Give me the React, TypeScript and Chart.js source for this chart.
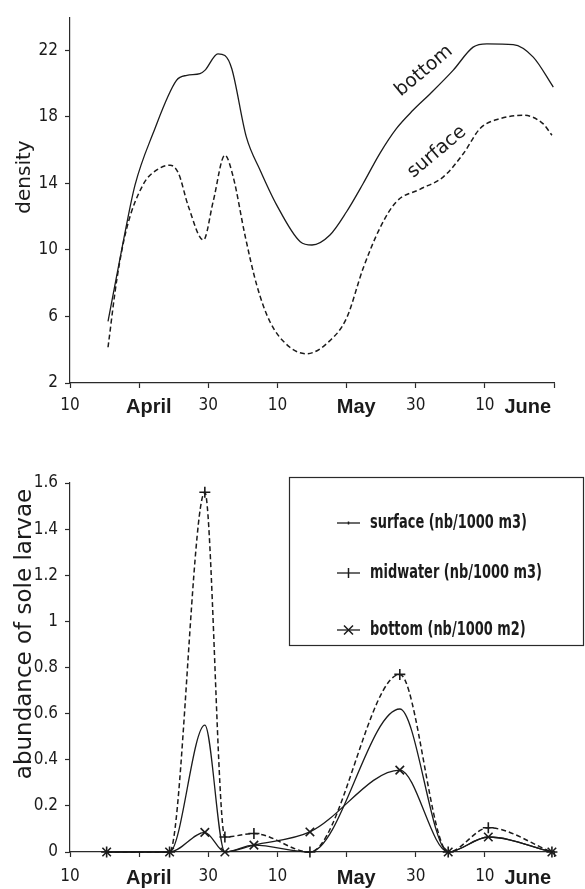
import React, { useEffect, useRef } from 'react';
import { Chart, registerables } from 'chart.js';

Chart.register(...registerables);

// ---------- shared x axis (day number: 10 = 10 April ... 80 = 19 June) ----------
const tickDays = [10, 20, 30, 40, 50, 60, 70, 80];
const tickLabels = ['10', '', '30', '10', '', '30', '10', ''];
const monthDays = [21.4, 51.4, 76.2];
const monthNames = ['April', 'May', 'June'];

// ---------- top chart: density ----------
const densityTicks = [2, 6, 10, 14, 18, 22];
const bottomDensityDays = [15.5, 17.7, 19.4, 22.0, 25.4, 26.9, 28.8, 29.5, 31.4, 32.4, 33.4, 35.5, 37.5, 39.9, 43.3, 45.0, 47.6, 50.0, 52.4, 54.8, 57.2, 59.6, 62.1, 65.4, 68.3, 70.3, 74.1, 77.0, 79.9];
const bottomDensity = [5.7, 10.5, 13.9, 17.0, 20.2, 20.5, 20.6, 20.8, 21.8, 21.7, 20.9, 16.8, 14.8, 12.7, 10.5, 10.3, 10.9, 12.3, 14.0, 15.8, 17.3, 18.4, 19.4, 20.8, 22.2, 22.4, 22.35, 21.6, 19.8];
const surfaceDensityDays = [15.5, 16.8, 18.2, 20.6, 22.5, 24.5, 25.7, 27.1, 29.3, 30.7, 32.4, 33.6, 35.3, 37.0, 38.9, 41.8, 44.2, 47.6, 50.0, 52.4, 54.8, 57.2, 60.6, 64.0, 66.9, 69.3, 72.2, 75.6, 78.4, 79.7];
const surfaceDensity = [4.15, 8.3, 11.3, 13.95, 14.8, 15.1, 14.6, 12.65, 10.6, 12.9, 15.7, 14.4, 10.9, 7.9, 5.7, 4.15, 3.76, 4.55, 5.9, 8.9, 11.3, 12.9, 13.65, 14.4, 15.8, 17.3, 17.9, 18.1, 17.6, 16.9];

// ---------- bottom chart: abundance of sole larvae ----------
const abundanceTicks = [0, 0.2, 0.4, 0.6, 0.8, 1, 1.2, 1.4, 1.6];
const sampleDays = [15.3, 24.4, 29.5, 32.4, 36.6, 44.7, 57.7, 64.7, 70.5, 79.7];
const surfaceAbundance = [0, 0, 0.55, 0, 0.03, 0, 0.62, 0, 0.065, 0];
const midwaterAbundance = [0, 0, 1.56, 0.065, 0.08, 0, 0.77, 0, 0.105, 0];
const bottomAbundance = [0, 0, 0.085, 0, 0.03, 0.087, 0.355, 0, 0.065, 0];
const seriesNames = ['surface (nb/1000 m3)', 'midwater (nb/1000 m3)', 'bottom (nb/1000 m2)'];

const INK = '#1b1b1b';
const AXIS = '#2a2a2a';
const NARROW = "'Liberation Sans Narrow', 'DejaVu Sans Condensed', 'Liberation Sans', sans-serif";
const SANS = "'Liberation Sans', Arial, sans-serif";
const ROUND = "'DejaVu Sans', sans-serif";

const isMonth = (v: number) => monthDays.some((m) => Math.abs(m - v) < 1e-6);
const labelFor = (v: number) => {
  const mi = monthDays.findIndex((m) => Math.abs(m - v) < 1e-6);
  if (mi >= 0) return monthNames[mi];
  const ti = tickDays.findIndex((t) => Math.abs(t - v) < 1e-6);
  return ti >= 0 ? tickLabels[ti] : '';
};

function xScale(axisHeight: number, padding: number) {
  const all = [...tickDays, ...monthDays].sort((a, b) => a - b);
  return {
    type: 'linear',
    min: 10,
    max: 80,
    afterBuildTicks: (scale: any) => {
      scale.ticks = all.map((v) => ({ value: v }));
    },
    afterFit: (scale: any) => {
      scale.height = axisHeight;
    },
    border: { display: true, color: AXIS, width: 1.2 },
    grid: {
      drawOnChartArea: false,
      drawTicks: true,
      tickLength: 5,
      tickWidth: 1.2,
      tickColor: (c: any) => (c.tick && isMonth(c.tick.value) ? 'rgba(0,0,0,0)' : AXIS),
    },
    ticks: {
      autoSkip: false,
      maxRotation: 0,
      minRotation: 0,
      padding,
      color: INK,
      font: (c: any) =>
        c.tick && isMonth(c.tick.value)
          ? { family: SANS, size: 20, weight: 'bold' }
          : { family: NARROW, size: 17 },
      callback: (v: any) => labelFor(Number(v)),
    },
  };
}

function yScale(min: number, max: number, values: number[]) {
  return {
    type: 'linear',
    min,
    max,
    afterBuildTicks: (scale: any) => {
      scale.ticks = values.map((v) => ({ value: v }));
    },
    afterFit: (scale: any) => {
      scale.width = 70;
    },
    border: { display: true, color: AXIS, width: 1.2 },
    grid: { drawOnChartArea: false, drawTicks: true, tickLength: 5, tickWidth: 1.2, tickColor: AXIS },
    ticks: {
      padding: 7,
      color: INK,
      font: { family: NARROW, size: 17 },
      callback: (v: any) => String(Math.round(Number(v) * 10) / 10),
    },
  };
}

const textPlugin = {
  id: 'freeText',
  afterDraw(chart: any, _args: any, opts: any) {
    const ctx = chart.ctx;
    (opts.items || []).forEach((it: any) => {
      ctx.save();
      ctx.translate(it.x, it.y);
      ctx.rotate((it.angle * Math.PI) / 180);
      ctx.font = it.font;
      ctx.fillStyle = INK;
      ctx.textAlign = 'center';
      ctx.textBaseline = 'middle';
      ctx.fillText(it.text, 0, 0);
      ctx.restore();
    });
  },
};

const boxLegendPlugin = {
  id: 'boxLegend',
  afterDraw(chart: any, _args: any, opts: any) {
    if (!opts || !opts.box) return;
    const ctx = chart.ctx;
    const { box, rowsY, sampleX0, sampleX1, textX, font, condense } = opts;
    ctx.save();
    ctx.strokeStyle = AXIS;
    ctx.lineWidth = 1.2;
    ctx.strokeRect(box.x, box.y, box.w, box.h);
    chart.data.datasets.forEach((ds: any, i: number) => {
      const y = rowsY[i];
      const cx = (sampleX0 + sampleX1) / 2;
      ctx.strokeStyle = INK;
      ctx.lineWidth = 1.3;
      ctx.setLineDash([]);
      ctx.beginPath();
      ctx.moveTo(sampleX0, y);
      ctx.lineTo(sampleX1, y);
      ctx.stroke();
      ctx.beginPath();
      ctx.lineWidth = 1.5;
      if (ds.pointStyle === 'cross') {
        ctx.moveTo(cx, y - 5);
        ctx.lineTo(cx, y + 5);
      } else if (ds.pointStyle === 'crossRot') {
        ctx.moveTo(cx - 4.5, y - 4.5);
        ctx.lineTo(cx + 4.5, y + 4.5);
        ctx.moveTo(cx - 4.5, y + 4.5);
        ctx.lineTo(cx + 4.5, y - 4.5);
      } else {
        ctx.moveTo(cx, y - 1.5);
        ctx.lineTo(cx, y + 1.5);
      }
      ctx.stroke();
      ctx.save();
      ctx.translate(textX, y);
      ctx.scale(condense, 1);
      ctx.fillStyle = INK;
      ctx.font = font;
      ctx.textAlign = 'left';
      ctx.textBaseline = 'middle';
      ctx.fillText(ds.label, 0, 0);
      ctx.restore();
    });
    ctx.restore();
  },
};

const toXY = (xs: number[], ys: number[]) => xs.map((x, i) => ({ x, y: ys[i] }));

function DensityChart() {
  const ref = useRef<HTMLCanvasElement>(null);
  useEffect(() => {
    if (!ref.current) return;
    const chart = new Chart(ref.current, {
      type: 'line',
      data: {
        datasets: [
          {
            label: 'bottom',
            data: toXY(bottomDensityDays, bottomDensity),
            borderColor: INK,
            borderWidth: 1.3,
            pointRadius: 0,
            cubicInterpolationMode: 'monotone',
            fill: false,
          },
          {
            label: 'surface',
            data: toXY(surfaceDensityDays, surfaceDensity),
            borderColor: INK,
            borderWidth: 1.5,
            borderDash: [5, 3],
            pointRadius: 0,
            cubicInterpolationMode: 'monotone',
            fill: false,
          },
        ],
      },
      options: {
        responsive: false,
        animation: false,
        events: [],
        layout: { padding: { top: 12, right: 31, left: 0, bottom: 0 } },
        scales: {
          x: xScale(57, 7) as any,
          y: yScale(2, 24, densityTicks) as any,
        },
        plugins: {
          legend: { display: false },
          tooltip: { enabled: false },
          freeText: {
            items: [
              { text: 'density', x: 25, y: 177, angle: -90, font: `20px ${ROUND}` },
              { text: 'bottom', x: 424, y: 71, angle: -40, font: `19px ${ROUND}` },
              { text: 'surface', x: 437, y: 152, angle: -40, font: `19px ${ROUND}` },
            ],
          },
        } as any,
      },
      plugins: [textPlugin],
    } as any);
    return () => chart.destroy();
  }, []);
  return <canvas ref={ref} width={585} height={440} style={{ display: 'block' }} />;
}

function AbundanceChart() {
  const ref = useRef<HTMLCanvasElement>(null);
  useEffect(() => {
    if (!ref.current) return;
    const chart = new Chart(ref.current, {
      type: 'line',
      data: {
        datasets: [
          {
            label: seriesNames[0],
            data: toXY(sampleDays, surfaceAbundance),
            borderColor: INK,
            borderWidth: 1.3,
            pointRadius: 0,
            pointStyle: 'line',
            cubicInterpolationMode: 'monotone',
            fill: false,
          },
          {
            label: seriesNames[1],
            data: toXY(sampleDays, midwaterAbundance),
            borderColor: INK,
            borderWidth: 1.5,
            borderDash: [5, 3],
            pointStyle: 'cross',
            pointRadius: 5.5,
            pointBorderWidth: 1.6,
            pointBorderColor: INK,
            cubicInterpolationMode: 'monotone',
            fill: false,
          },
          {
            label: seriesNames[2],
            data: toXY(sampleDays, bottomAbundance),
            borderColor: INK,
            borderWidth: 1.3,
            pointStyle: 'crossRot',
            pointRadius: 6,
            pointBorderWidth: 1.6,
            pointBorderColor: INK,
            cubicInterpolationMode: 'monotone',
            fill: false,
          },
        ],
      },
      options: {
        responsive: false,
        animation: false,
        events: [],
        clip: false,
        layout: { padding: { top: 43, right: 31, left: 0, bottom: 0 } },
        scales: {
          x: xScale(37, 9) as any,
          y: yScale(0, 1.6, abundanceTicks) as any,
        },
        plugins: {
          legend: { display: false },
          tooltip: { enabled: false },
          freeText: {
            items: [
              { text: 'abundance of sole larvae', x: 25, y: 194, angle: -90, font: `23px ${ROUND}` },
            ],
          },
          boxLegend: {
            box: { x: 289.5, y: 37.5, w: 294, h: 168 },
            rowsY: [83, 133, 190],
            sampleX0: 337,
            sampleX1: 360,
            textX: 370,
            condense: 0.72,
            font: `bold 20px ${NARROW}`,
          },
        } as any,
      },
      plugins: [textPlugin, boxLegendPlugin],
    } as any);
    return () => chart.destroy();
  }, []);
  return <canvas ref={ref} width={585} height={449} style={{ display: 'block' }} />;
}

export default function App() {
  return (
    <div style={{ position: 'absolute', left: 0, top: 0, width: 585, height: 889, background: '#fff' }}>
      <DensityChart />
      <AbundanceChart />
    </div>
  );
}
